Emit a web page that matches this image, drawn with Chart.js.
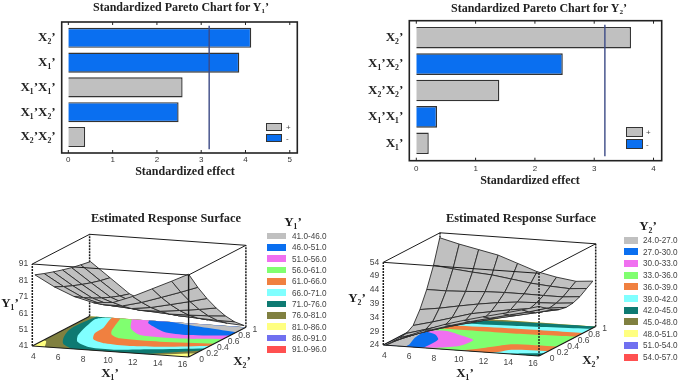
<!DOCTYPE html>
<html>
<head>
<meta charset="utf-8">
<script src="https://cdn.jsdelivr.net/npm/chart.js@4/dist/chart.umd.min.js"></script>
<style>
html, body { margin: 0; padding: 0; background: #fff; }
#page { position: relative; width: 680px; height: 381px; overflow: hidden; background: #fff; filter: blur(0.3px); }
canvas { position: absolute; }
.txt { position: absolute; transform: translate(-50%, -50%); white-space: nowrap; color: #222; font-family: "Liberation Serif", serif; font-weight: bold; }
.sw { position: absolute; }
.lg { position: absolute; transform: translateY(-50%); white-space: nowrap; color: #444; font-family: "Liberation Sans", sans-serif; }
</style>
</head>
<body>
<div id="page">
<canvas id="pareto1" width="340" height="190" style="left:0;top:0"></canvas>
<canvas id="pareto2" width="340" height="190" style="left:340px;top:0"></canvas>
<canvas id="surface1" width="340" height="181" style="left:0;top:200px"></canvas>
<canvas id="surface2" width="340" height="181" style="left:340px;top:200px"></canvas>
</div>
<script>
const GRIS = "#c0c0c0", AZUL = "#0a6ff0"

// pareto charts
const factores1 = ["X₂’", "X₁’", "X₁’X₁’", "X₁’X₂’", "X₂’X₂’"]
const efectos1 = [4.13, 3.86, 2.58, 2.49, 0.38]
const signos1 = ["-", "-", "+", "-", "+"]
const factores2 = ["X₂’", "X₁’X₂’", "X₂’X₂’", "X₁’X₁’", "X₁’"]
const efectos2 = [3.62, 2.47, 1.40, 0.35, 0.21]
const signos2 = ["+", "-", "+", "-", "+"]
const limite = 3.18

// surface grids, one row per X2 value, one column per X1 value
const mallaX1 = [4.2, 5.7, 7.2, 8.7, 10.2, 11.7, 13.2, 14.7, 16]
const mallaX2a = [0, 0.16, 0.32, 0.48, 0.64, 0.8, 0.97]
const mallaX2b = [0, 0.12, 0.24, 0.36, 0.48, 0.6, 0.72, 0.84, 0.95]
const superficie1 = [
    [84.5, 78, 73, 70, 71, 75.5, 81, 86.5, 91.5],
    [82.4, 75.3, 69.4, 66, 66, 69, 72.9, 76.9, 80.6],
    [80.5, 72.9, 66.2, 62.4, 61.5, 63, 65.6, 68.3, 70.9],
    [78.8, 70.8, 63.4, 59.2, 57.5, 57.8, 59.1, 60.6, 62.2],
    [77.3, 68.9, 60.9, 56.4, 54, 53.2, 53.4, 53.8, 54.5],
    [76.1, 67.3, 58.8, 54, 51, 49.3, 48.6, 48.1, 48],
    [75, 66, 57, 52, 48.5, 46, 44.5, 43.3, 42.6]
]
const superficie2 = [
    [24, 27.5, 30.5, 33, 35, 36.8, 38.5, 40.3, 42],
    [24, 26.8, 29.3, 31.4, 33.3, 35, 36.7, 38.3, 40],
    [24.1, 26.3, 28.4, 30.3, 32, 33.7, 35.2, 36.7, 38.2],
    [24.4, 26.4, 28.4, 30.3, 31.9, 33.4, 34.6, 35.8, 37],
    [26, 27.8, 29.8, 31.8, 33, 34.2, 35.1, 35.8, 36.5],
    [30.5, 31.5, 32.8, 34, 35, 35.7, 36, 36.3, 36.8],
    [36.5, 36.5, 36.8, 37.2, 37.4, 37.4, 37.3, 37.3, 37.8],
    [44, 43.2, 42.5, 42, 41, 40, 39.4, 39, 39.5],
    [52.8, 51, 49.5, 48, 45.5, 43, 41.5, 40.5, 41]
]

// contour regions on the floor, [X1, X2] outlines, outermost first
const contornos1 = [
    { color: "#ffff80", puntos: [[4, 0], [16, 0], [16, 1], [4, 1]] },
    { color: "#808040", puntos: [[4.96, 0], [4.36, 0.16], [4, 0.2], [4, 1], [16, 1], [16, 0.13], [13.4, 0]] },
    { color: "#0e7a72", puntos: [[7, 0], [5.8, 0.13], [5.1, 0.29], [4.5, 0.5], [4.3, 0.68], [4.5, 1], [16, 1], [16, 0.22], [14.2, 0.1], [12.6, 0]] },
    { color: "#80ffff", puntos: [[5.2, 1], [4.76, 0.92], [5.67, 0.42], [6.5, 0.22], [8.07, 0.08], [10, 0.06], [12.4, 0.147], [16, 0.29], [16, 1]] },
    { color: "#f08040", puntos: [[5.7, 1], [5.9, 0.9], [6.4, 0.7], [6.58, 0.5], [7.24, 0.33], [8.56, 0.23], [10.6, 0.2], [13, 0.25], [16, 0.38], [16, 1]] },
    { color: "#80ff70", puntos: [[6.35, 1], [6.44, 0.97], [7.36, 0.62], [7.9, 0.5], [8.9, 0.41], [12.06, 0.395], [16, 0.45], [16, 1]] },
    { color: "#f070f0", puntos: [[7.24, 1], [8.36, 0.73], [9.84, 0.55], [13, 0.53], [16, 0.6], [16, 1]] },
    { color: AZUL, puntos: [[8.56, 1], [8.88, 0.915], [11, 0.7], [13.1, 0.65], [16, 0.72], [16, 1]] },
    { color: GRIS, puntos: [[10.36, 1], [11.8, 0.95], [13.6, 0.9], [16, 0.83], [16, 1]] }
]
const contornos2 = [
    { color: "#ffff80", puntos: [[4, 0], [16, 0], [16, 1], [4, 1]] },
    { color: "#808040", puntos: [[4, 0], [4, 0.95], [6.4, 0.96], [8.8, 1], [16, 1], [16, 0]] },
    { color: "#0e7a72", puntos: [[4, 0], [4, 0.92], [6.64, 0.924], [9.8, 0.966], [16, 1], [16, 0]] },
    { color: "#80ffff", puntos: [[4, 0], [4, 0.82], [6.84, 0.818], [10.3, 0.847], [16, 0.92], [16, 0.09], [14.6, 0.046], [13.6, 0]] },
    { color: "#f08040", puntos: [[4, 0], [4, 0.74], [6.7, 0.735], [10.7, 0.768], [16, 0.78], [16, 0.17], [13.3, 0.13], [12.8, 0.047], [12.2, 0]] },
    { color: "#80ff70", puntos: [[4, 0], [4, 0.62], [6.45, 0.615], [11.3, 0.619], [16, 0.66], [16, 0.32], [12.7, 0.293], [11.8, 0.2], [11, 0.1], [10, 0]] },
    { color: "#f070f0", puntos: [[4, 0], [4, 0.6], [4.9, 0.533], [6.5, 0.549], [7.9, 0.458], [9.46, 0.337], [9.3, 0.141], [8, 0.033], [7, 0]] },
    { color: AZUL, puntos: [[4, 0], [4, 0.55], [5.2, 0.49], [6.2, 0.42], [7, 0.28], [7.08, 0.03], [6.9, 0]] },
    { color: GRIS, puntos: [[4, 0], [5.7, 0], [5.7, 0.07], [5.2, 0.28], [5, 0.45], [4.7, 0.6], [4, 0.6]] }
]

// tick labels and legends
const ticksX1 = [4, 6, 8, 10, 12, 14, 16]
const ticksX2 = [0, 0.2, 0.4, 0.6, 0.8, 1]
const ticksY1 = [41, 51, 61, 71, 81, 91]
const ticksY2 = [24, 29, 34, 39, 44, 49, 54]
const rangos1 = ["41.0-46.0", "46.0-51.0", "51.0-56.0", "56.0-61.0", "61.0-66.0", "66.0-71.0", "71.0-76.0", "76.0-81.0", "81.0-86.0", "86.0-91.0", "91.0-96.0"]
const rangos2 = ["24.0-27.0", "27.0-30.0", "30.0-33.0", "33.0-36.0", "36.0-39.0", "39.0-42.0", "42.0-45.0", "45.0-48.0", "48.0-51.0", "51.0-54.0", "54.0-57.0"]
const coloresRango = [GRIS, AZUL, "#f070f0", "#80ff70", "#f08040", "#80ffff", "#0e7a72", "#808040", "#ffff80", "#7070f0", "#ff5050"]

const pagina = document.getElementById("page")

function texto(contenido, x, y, size){
    const el = document.createElement("div")
    el.className = "txt"
    el.textContent = contenido
    el.style.left = x + "px"
    el.style.top = y + "px"
    el.style.fontSize = size + "px"
    pagina.appendChild(el)
}

function leyenda(etiquetas, colores, x, y, paso, ancho, alto, sep, size){
    etiquetas.forEach(function(etiqueta, i){
        const caja = document.createElement("div")
        caja.className = "sw"
        caja.style.cssText = "left:"+x+"px;top:"+(y+i*paso-alto/2)+"px;width:"+ancho+"px;height:"+alto+"px;background:"+colores[i]
        if(etiquetas.length == 2) caja.style.outline = "1px solid #333"
        pagina.appendChild(caja)
        const el = document.createElement("div")
        el.className = "lg"
        el.textContent = etiqueta
        el.style.left = (x+ancho+sep) + "px"
        el.style.top = (y+i*paso) + "px"
        el.style.fontSize = size + "px"
        pagina.appendChild(el)
    })
}

// frame and inward tick marks of the pareto charts
const marco = {
    id: "marco",
    afterDraw(chart, args, opts){
        const {ctx, chartArea, scales} = chart
        const arriba = chartArea.top - opts.arriba, abajo = chartArea.bottom + opts.abajo
        ctx.save()
        ctx.strokeStyle = "#222"
        ctx.lineWidth = 1.6
        ctx.strokeRect(chartArea.left, arriba, chartArea.right - chartArea.left, abajo - arriba)
        ctx.lineWidth = 1
        scales.x.ticks.forEach(function(t){
            const px = scales.x.getPixelForValue(t.value)
            ctx.beginPath()
            ctx.moveTo(px, arriba); ctx.lineTo(px, arriba + 3)
            ctx.moveTo(px, abajo); ctx.lineTo(px, abajo - 3)
            ctx.stroke()
        })
        ctx.restore()
    }
}

function graficarPareto(id, factores, efectos, signos, cfg){
    new Chart(document.getElementById(id), {
        data: {
            labels: factores,
            datasets: [{
                type: "scatter",
                data: [{x: limite, y: 0}, {x: limite, y: 1}],
                xAxisID: "x",
                yAxisID: "y2",
                showLine: true,
                pointRadius: 0,
                borderColor: "#3c4a86",
                borderWidth: 1.4,
                order: 0
            }, {
                type: "bar",
                indexAxis: "y",
                data: efectos,
                xAxisID: "x",
                yAxisID: "y",
                backgroundColor: signos.map(s => s == "+" ? GRIS : AZUL),
                borderColor: "#333",
                borderWidth: 1.4,
                barPercentage: cfg.barra,
                categoryPercentage: 1,
                order: 1
            }]
        },
        options: {
            responsive: false,
            animation: false,
            layout: { padding: cfg.padding },
            plugins: {
                legend: { display: false },
                tooltip: { enabled: false },
                marco: { arriba: cfg.arriba, abajo: cfg.abajo }
            },
            scales: {
                x: {
                    type: "linear",
                    min: cfg.min,
                    max: cfg.max,
                    grid: { display: false, drawTicks: false },
                    border: { display: false },
                    ticks: { stepSize: 1, includeBounds: false, padding: cfg.pad, color: "#333", font: { family: "Liberation Sans", size: 8 } },
                    afterFit(s){ s.height = 20 }
                },
                y: {
                    type: "category",
                    offset: true,
                    grid: { display: false, drawTicks: false },
                    border: { display: false },
                    ticks: { padding: 6, color: "#222", font: { family: "Liberation Serif", size: 13, weight: "bold" } },
                    afterFit(s){ s.width = cfg.anchoY }
                },
                y2: { type: "linear", display: false, min: 0, max: 1 }
            }
        },
        plugins: [marco]
    })
}

graficarPareto("pareto1", factores1, efectos1, signos1, {
    min: -0.15, max: 5.17, barra: 0.81, pad: 5.5, anchoY: 61.7,
    padding: { left: 0, right: 42.7, top: 25.4, bottom: 20.6 }, arriba: 3.4, abajo: 3.6
})
graficarPareto("pareto2", factores2, efectos2, signos2, {
    min: -0.118, max: 4.138, barra: 0.82, pad: 7.5, anchoY: 69.3,
    padding: { left: 0, right: 18.3, top: 24.5, bottom: 13.5 }, arriba: 3.8, abajo: 4.2
})

function dataset(puntos, estilo){
    return Object.assign({ data: puntos, showLine: true, pointRadius: 0, borderWidth: 0, tension: 0 }, estilo)
}

function graficarSuperficie(id, cfg){
    // orthographic box: e0 is X1=4,X2=0,Y=min, the others are the axis directions
    function proyectar(x1, x2, y){
        const u = (x1 - 4) / 12, w = (y - cfg.yMin) / (cfg.yMax - cfg.yMin)
        return {
            x: cfg.e0[0] + cfg.eu[0]*u + cfg.ev[0]*x2,
            y: cfg.e0[1] + cfg.eu[1]*u + cfg.ev[1]*x2 - cfg.ew*w
        }
    }
    function arista(a, b, ancho, guion){
        return dataset([proyectar(a[0], a[1], a[2]), proyectar(b[0], b[1], b[2])], {
            borderColor: "#1c1c1c", borderWidth: ancho, borderDash: guion || []
        })
    }
    const {yMin, yMax} = cfg
    let capas = []

    // back of the box
    capas.push(arista([4, 1, yMin], [4, 1, yMax], 1.5, [2, 1]))
    capas.push(arista([4, 1, yMax], [16, 1, yMax], 1))

    // floor contours, points on the floor border are doubled to keep the corners sharp
    cfg.contornos.forEach(function(c){
        let puntos = []
        c.puntos.forEach(function(p){
            const q = proyectar(p[0], p[1], yMin)
            puntos.push(q)
            if(p[0] == 4 || p[0] == 16 || p[1] == 0 || p[1] == 1) puntos.push(q)
        })
        puntos.push(puntos[0])
        capas.push(dataset(puntos, { fill: "shape", backgroundColor: c.color, tension: 0.25 }))
    })
    capas.push(arista([4, 0, yMin], [16, 0, yMin], 1.2))
    capas.push(arista([4, 0, yMin], [4, 1, yMin], 1.2))
    capas.push(arista([16, 0, yMin], [16, 1, yMin], 1.2))

    // surface cells, far to near
    for(let j = cfg.mallaX2.length - 2; j >= 0; j--){
        for(let i = 0; i < mallaX1.length - 1; i++){
            const puntos = [
                proyectar(mallaX1[i], cfg.mallaX2[j], cfg.valores[j][i]),
                proyectar(mallaX1[i+1], cfg.mallaX2[j], cfg.valores[j][i+1]),
                proyectar(mallaX1[i+1], cfg.mallaX2[j+1], cfg.valores[j+1][i+1]),
                proyectar(mallaX1[i], cfg.mallaX2[j+1], cfg.valores[j+1][i])
            ]
            puntos.push(puntos[0])
            capas.push(dataset(puntos, { fill: "shape", backgroundColor: GRIS, borderColor: "#2a2a2a", borderWidth: 0.9 }))
        }
    }

    // front of the box
    capas.push(arista([4, 0, yMax], [16, 0, yMax], 1))
    capas.push(arista([4, 0, yMax], [4, 1, yMax], 1))
    capas.push(arista([16, 0, yMax], [16, 1, yMax], 1))
    capas.push(arista([4, 0, yMin], [4, 0, yMax], 1.5, [2, 1]))
    capas.push(arista([16, 1, yMin], [16, 1, yMax], 1.5, [2, 1]))
    capas.push(arista([16, 0, yMin], [16, 0, yMax], 1.4, cfg.guionFrente))

    capas.forEach(function(c, i){ c.order = -i })

    const etiquetasEjes = {
        id: "etiquetasEjes",
        afterDraw(chart){
            const {ctx, scales} = chart
            const poner = (t, p, dx, dy) => ctx.fillText(t, scales.x.getPixelForValue(p.x) + dx, scales.y.getPixelForValue(p.y) + dy)
            ctx.save()
            ctx.font = "8.5px 'Liberation Sans'"
            ctx.fillStyle = "#444"
            ctx.textBaseline = "middle"
            ctx.textAlign = "center"
            ticksX1.forEach(function(t){
                const u = (t - 4) / 12
                poner(String(t), proyectar(t, 0, yMin), 1 - 7*u, 10.7 - 2.7*u)
            })
            ticksX2.forEach(function(t){
                poner(String(t), proyectar(16, t, yMin), 13 - 4*t, 2.5)
            })
            ctx.textAlign = "right"
            cfg.ticksY.forEach(function(t){
                poner(String(t), proyectar(4, 0, t), -4, 0)
            })
            ctx.restore()
        }
    }

    new Chart(document.getElementById(id), {
        type: "scatter",
        data: { datasets: capas },
        options: {
            responsive: false,
            animation: false,
            plugins: { legend: { display: false }, tooltip: { enabled: false } },
            scales: {
                x: { type: "linear", display: false, min: cfg.vista[0], max: cfg.vista[0] + 340 },
                y: { type: "linear", display: false, reverse: true, min: cfg.vista[1], max: cfg.vista[1] + 181 }
            }
        },
        plugins: [etiquetasEjes]
    })
}

graficarSuperficie("surface1", {
    e0: [32.3, 346], eu: [156.3, 11], ev: [57.3, -29.7], ew: 82,
    yMin: 41, yMax: 91, vista: [0, 200], mallaX2: mallaX2a, valores: superficie1,
    contornos: contornos1, ticksY: ticksY1
})
graficarSuperficie("surface2", {
    e0: [383.3, 345], eu: [155.7, 11], ev: [56.7, -29.5], ew: 82.7,
    yMin: 24, yMax: 54, vista: [340, 200], mallaX2: mallaX2b, valores: superficie2,
    contornos: contornos2, ticksY: ticksY2, guionFrente: [2, 1]
})

// titles and legends
texto("Standardized Pareto Chart for Y₁’", 181, 7, 12)
texto("Standardized effect", 185, 171, 12)
texto("Standardized Pareto Chart for Y₂’", 539, 8, 12)
texto("Standardized effect", 530, 180, 12)
texto("Estimated Response Surface", 166, 218, 12.4)
texto("Estimated Response Surface", 521, 218, 12.4)
texto("Y₁’", 10, 303, 13)
texto("X₁’", 110, 373, 13)
texto("X₂’", 242, 361, 13)
texto("Y₁’", 293, 222, 13)
texto("Y₂’", 357, 298, 13)
texto("X₁’", 465, 373, 13)
texto("X₂’", 591, 360, 13)
texto("Y₂’", 648, 226, 13)
leyenda(["+", "-"], [GRIS, AZUL], 267, 127, 11.2, 14, 6.5, 5, 8)
leyenda(["+", "-"], [GRIS, AZUL], 627, 132, 12, 15, 7.5, 4, 8)
leyenda(rangos1, coloresRango, 267, 236, 11.33, 19, 6.5, 6, 8.2)
leyenda(rangos2, coloresRango, 624, 240, 11.7, 14, 7, 5, 8.2)
</script>
</body>
</html>
